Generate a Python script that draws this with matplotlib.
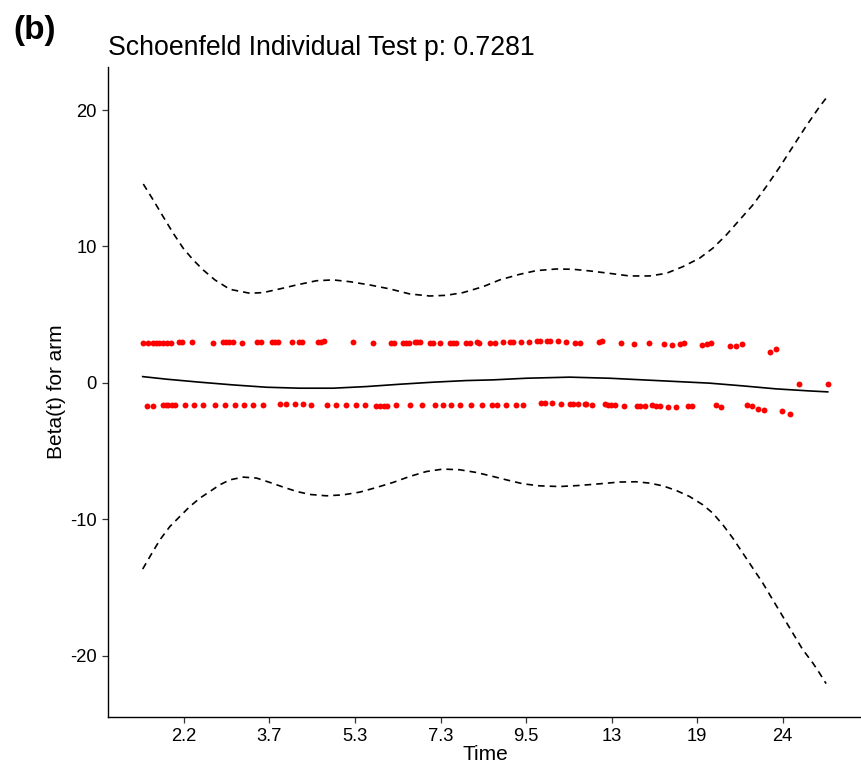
import matplotlib
matplotlib.use("Agg")
import matplotlib.pyplot as plt

plt.rcParams['font.family'] = ['Liberation Sans', 'DejaVu Sans']
plt.rcParams['axes.unicode_minus'] = False

# ---- Axis ticks (time on transformed scale) ----
tick_pos = [1, 2, 3, 4, 5, 6, 7, 8]
tick_labels = ["2.2", "3.7", "5.3", "7.3", "9.5", "13", "19", "24"]

# ---- Smoothed beta(t) and confidence band ----
fit_x = [0.518, 0.798, 1.187, 1.576, 1.966, 2.355, 2.744, 3.134, 3.523, 3.912,
         4.302, 4.613, 5.003, 5.509, 5.977, 6.366, 6.756, 7.145, 7.534, 7.924,
         8.313, 8.527]
fit_y = [0.46, 0.27, 0.05, -0.15, -0.32, -0.39, -0.39, -0.27, -0.10, 0.05,
         0.17, 0.22, 0.34, 0.42, 0.34, 0.22, 0.10, -0.02, -0.22, -0.44,
         -0.59, -0.66]

upper_x = [0.525, 0.641, 0.758, 0.875, 0.992, 1.109, 1.225, 1.362, 1.537, 1.771,
           1.926, 2.121, 2.317, 2.550, 2.744, 2.939, 3.173, 3.407, 3.640, 3.874,
           4.069, 4.263, 4.496, 4.692, 4.925, 5.120, 5.354, 5.548, 5.743, 5.977,
           6.210, 6.444, 6.639, 6.833, 7.028, 7.183, 7.340, 7.495, 7.651, 7.807,
           7.963, 8.118, 8.275, 8.430, 8.527]
upper_y = [14.58, 13.41, 12.18, 10.97, 9.87, 9.01, 8.28, 7.55, 6.86, 6.57,
           6.62, 6.89, 7.18, 7.49, 7.55, 7.42, 7.18, 6.89, 6.52, 6.37,
           6.42, 6.62, 7.05, 7.55, 7.96, 8.23, 8.35, 8.33, 8.21, 8.03,
           7.84, 7.84, 8.03, 8.52, 9.14, 9.87, 10.84, 11.94, 13.04, 14.38,
           15.80, 17.31, 18.83, 20.24, 21.03]

lower_x = [0.518, 0.603, 0.720, 0.836, 0.953, 1.070, 1.187, 1.304, 1.421, 1.537,
           1.693, 1.849, 2.005, 2.160, 2.317, 2.472, 2.667, 2.861, 3.056, 3.251,
           3.445, 3.640, 3.835, 4.029, 4.224, 4.419, 4.613, 4.770, 4.964, 5.159,
           5.393, 5.626, 5.860, 6.093, 6.288, 6.444, 6.599, 6.756, 6.911, 7.067,
           7.183, 7.300, 7.417, 7.534, 7.651, 7.767, 7.884, 8.001, 8.118, 8.235,
           8.352, 8.430, 8.508]
lower_y = [-13.65, -12.73, -11.50, -10.53, -9.79, -9.06, -8.45, -7.96, -7.47, -7.11,
           -6.91, -6.98, -7.30, -7.64, -7.96, -8.18, -8.28, -8.21, -8.01, -7.67,
           -7.30, -6.86, -6.50, -6.32, -6.37, -6.57, -6.86, -7.11, -7.40, -7.55,
           -7.60, -7.52, -7.40, -7.27, -7.25, -7.35, -7.55, -7.89, -8.33, -8.94,
           -9.55, -10.40, -11.38, -12.48, -13.58, -14.67, -15.90, -17.12, -18.34, -19.56,
           -20.53, -21.27, -22.05]

# ---- Scaled Schoenfeld residuals ----
resid_hi_x = [0.517, 0.583, 0.634, 0.673, 0.712, 0.759, 0.798, 0.844, 0.945, 0.977,
              1.090, 1.343, 1.452, 1.491, 1.530, 1.569, 1.674, 1.857, 1.896, 2.028,
              2.067, 2.098, 2.258, 2.343, 2.379, 2.569, 2.600, 2.636, 2.978, 3.212,
              3.418, 3.453, 3.562, 3.593, 3.632, 3.699, 3.726, 3.757, 3.874, 3.913,
              3.991, 4.107, 4.146, 4.185, 4.302, 4.341, 4.427, 4.450, 4.583, 4.633,
              4.731, 4.816, 4.847, 4.937, 5.034, 5.128, 5.159, 5.245, 5.276, 5.373,
              5.470, 5.568, 5.634, 5.852, 5.891, 6.113, 6.261, 6.432, 6.608, 6.705,
              6.794, 6.841, 7.055, 7.114, 7.164, 7.390, 7.449, 7.523, 7.854, 7.924]
resid_hi_y = [2.90, 2.90, 2.93, 2.95, 2.95, 2.95, 2.95, 2.95, 3.00, 3.00,
              2.98, 2.95, 2.98, 2.98, 2.98, 2.98, 2.95, 2.98, 2.98, 2.98,
              2.98, 2.98, 3.00, 3.02, 3.02, 3.02, 3.02, 3.05, 3.00, 2.95,
              2.93, 2.93, 2.93, 2.95, 2.95, 2.98, 2.98, 2.98, 2.95, 2.95,
              2.95, 2.93, 2.95, 2.95, 2.95, 2.95, 2.98, 2.95, 2.95, 2.95,
              2.98, 2.98, 2.98, 2.98, 2.98, 3.05, 3.05, 3.08, 3.05, 3.08,
              3.00, 2.95, 2.95, 3.00, 3.05, 2.90, 2.86, 2.90, 2.83, 2.78,
              2.83, 2.95, 2.78, 2.88, 2.95, 2.71, 2.71, 2.86, 2.30, 2.49]

resid_lo_x = [0.564, 0.642, 0.759, 0.790, 0.817, 0.856, 0.895, 1.012, 1.121, 1.226,
              1.362, 1.479, 1.596, 1.701, 1.810, 1.927, 2.121, 2.199, 2.297, 2.394,
              2.491, 2.667, 2.776, 2.893, 3.009, 3.122, 3.243, 3.290, 3.336, 3.375,
              3.477, 3.648, 3.788, 3.932, 4.030, 4.127, 4.224, 4.361, 4.489, 4.606,
              4.660, 4.762, 4.879, 4.964, 5.178, 5.217, 5.307, 5.412, 5.509, 5.548,
              5.607, 5.685, 5.704, 5.774, 5.918, 5.957, 5.996, 6.035, 6.144, 6.296,
              6.327, 6.386, 6.475, 6.514, 6.561, 6.658, 6.748, 6.892, 6.942, 7.215,
              7.281, 7.581, 7.643, 7.709, 7.780, 7.990, 8.087]
resid_lo_y = [-1.69, -1.69, -1.64, -1.64, -1.61, -1.61, -1.61, -1.61, -1.61, -1.61,
              -1.61, -1.61, -1.61, -1.61, -1.61, -1.61, -1.56, -1.56, -1.56, -1.56,
              -1.61, -1.61, -1.61, -1.61, -1.61, -1.61, -1.66, -1.66, -1.69, -1.69,
              -1.64, -1.61, -1.61, -1.61, -1.61, -1.61, -1.61, -1.61, -1.61, -1.61,
              -1.61, -1.61, -1.61, -1.61, -1.51, -1.51, -1.51, -1.54, -1.54, -1.54,
              -1.56, -1.54, -1.54, -1.59, -1.54, -1.59, -1.64, -1.64, -1.66, -1.71,
              -1.71, -1.69, -1.64, -1.69, -1.73, -1.78, -1.76, -1.66, -1.66, -1.64,
              -1.78, -1.61, -1.69, -1.90, -1.98, -2.03, -2.30]

resid_mid_x = [8.189, 8.527]
resid_mid_y = [-0.10, -0.10]

fig = plt.figure(figsize=(8.61, 7.70), dpi=100)
ax = fig.add_axes([0.1254, 0.0688, 0.8757, 0.844])

ax.plot(fit_x, fit_y, color='black', lw=1.2)
ax.plot(upper_x, upper_y, color='black', lw=1.2, dashes=(4, 3))
ax.plot(lower_x, lower_y, color='black', lw=1.2, dashes=(4, 3))

for xs, ys in [(resid_hi_x, resid_hi_y), (resid_lo_x, resid_lo_y),
               (resid_mid_x, resid_mid_y)]:
    ax.scatter(xs, ys, s=18, color='#ff0000', linewidths=0, zorder=3)

ax.set_xlim(0.112, 8.927)
ax.set_ylim(-24.5, 23.15)
ax.set_xticks(tick_pos)
ax.set_xticklabels(tick_labels)
ax.set_yticks([-20, -10, 0, 10, 20])

for side in ['top', 'right']:
    ax.spines[side].set_visible(False)
for side in ['left', 'bottom']:
    ax.spines[side].set_linewidth(1.0)
    ax.spines[side].set_color('black')
ax.tick_params(axis='both', length=4, width=0.9, color='#333333',
               labelsize=13.2, labelcolor='black', pad=4)

ax.set_xlabel("Time", fontsize=15, labelpad=0)
ax.set_ylabel("Beta(t) for arm", fontsize=15, labelpad=3)
ax.set_title("Schoenfeld Individual Test p: 0.7281", fontsize=19.2,
             loc='left', pad=9)

fig.text(0.016, 0.960, "(b)", fontsize=24, fontweight='bold',
         ha='left', va='center')

fig.savefig("out.png", dpi=100)
